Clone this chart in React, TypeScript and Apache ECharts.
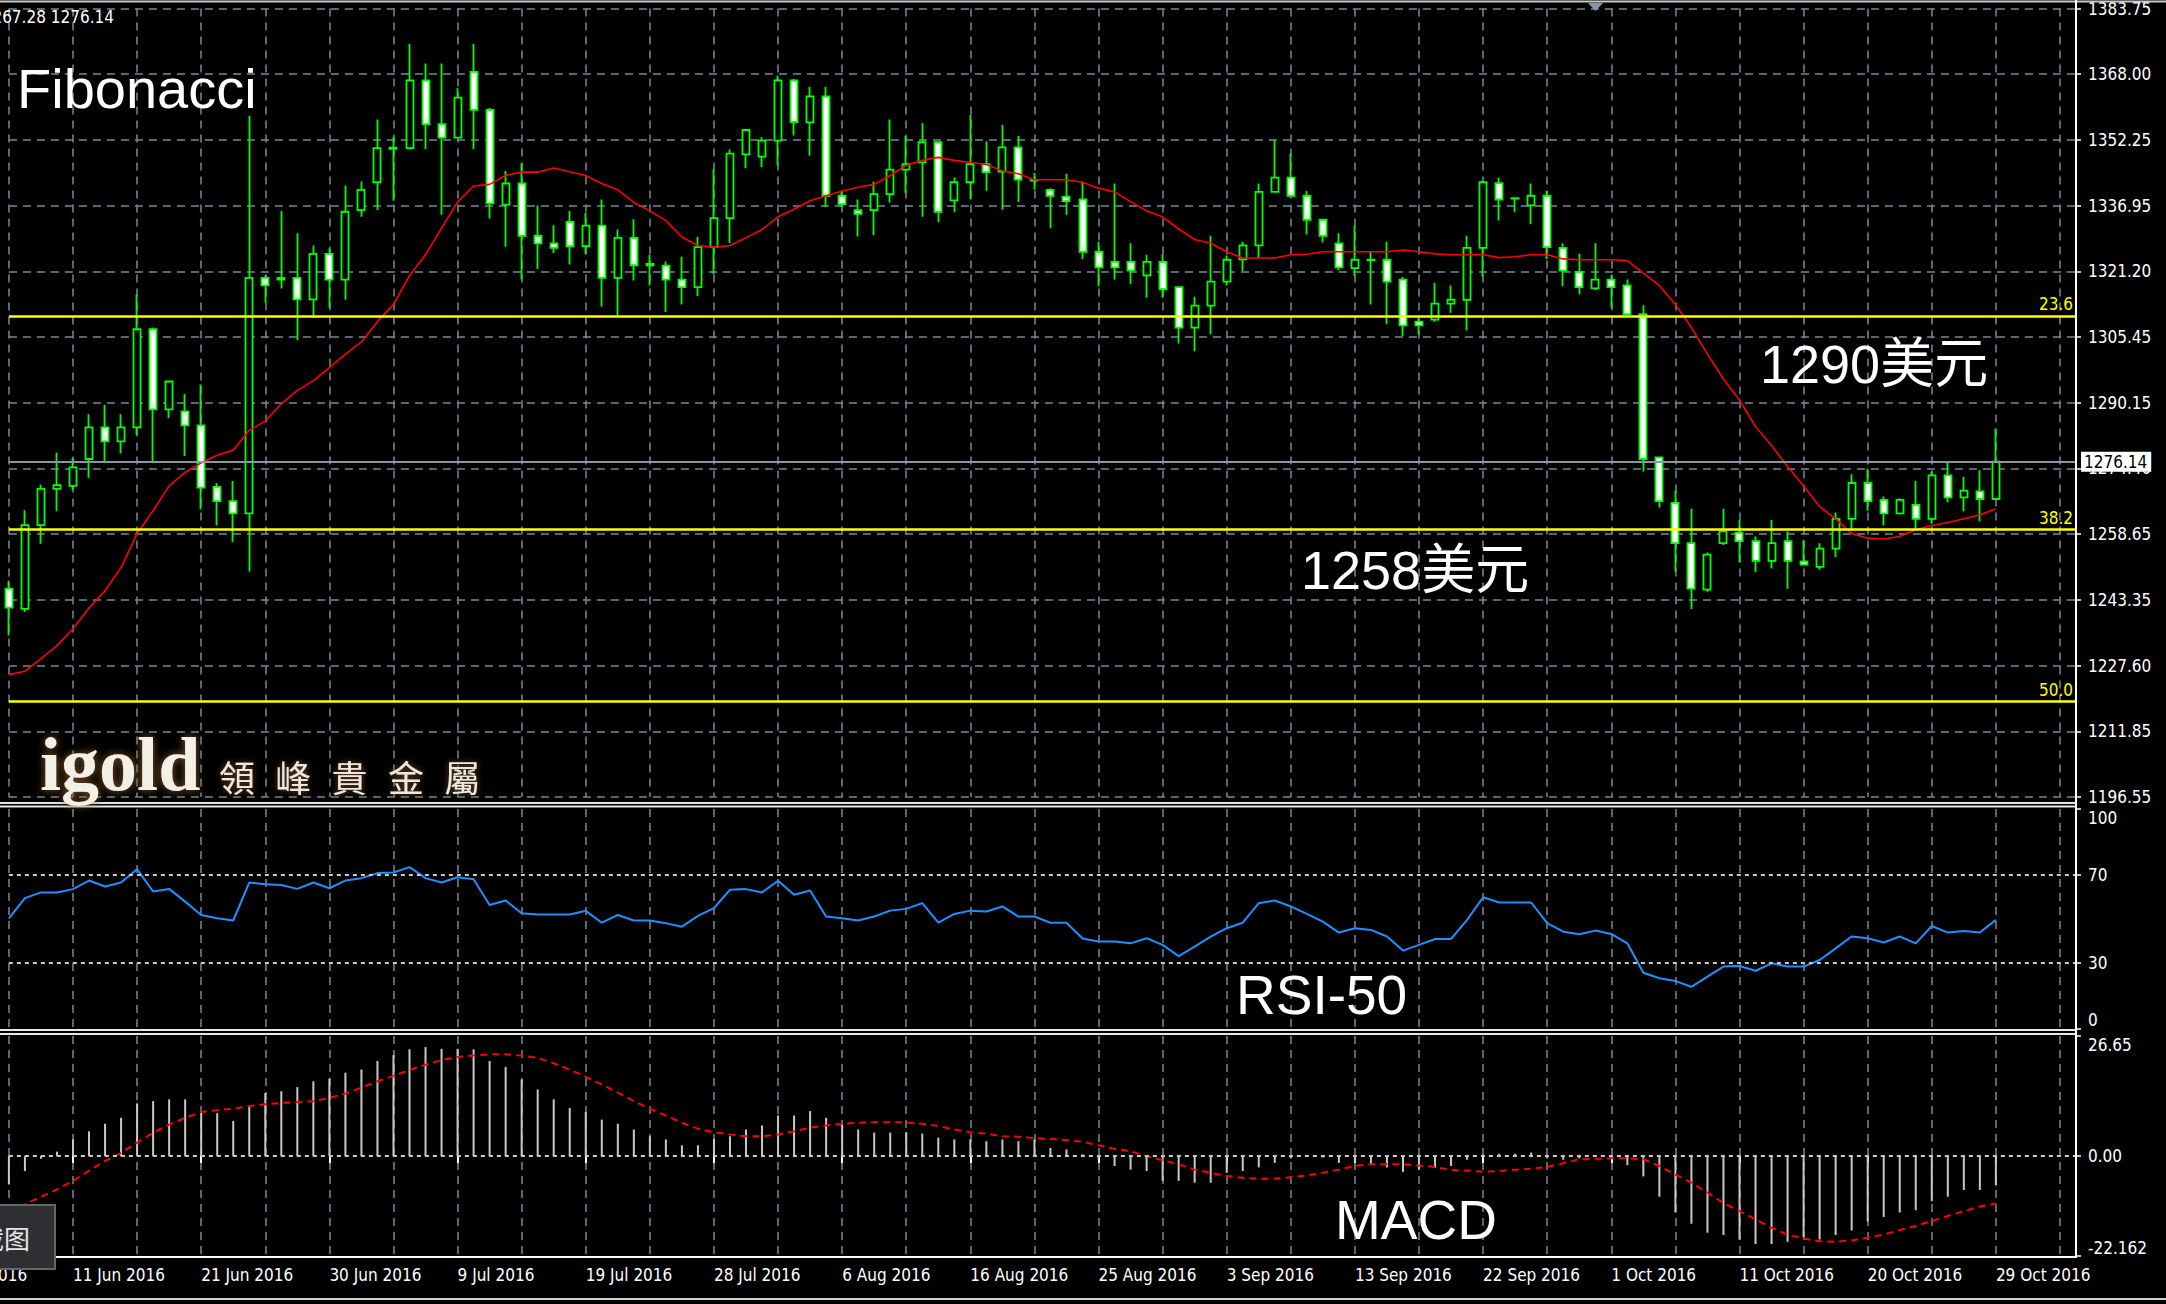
import React, { useEffect, useRef } from "react";
import * as echarts from "echarts";

// ---------- DATA ----------
const dates = [
  "7 Jun 2016","8 Jun 2016","9 Jun 2016","10 Jun 2016","11 Jun 2016",
  "13 Jun 2016","14 Jun 2016","15 Jun 2016","16 Jun 2016","17 Jun 2016","18 Jun 2016",
  "20 Jun 2016","21 Jun 2016","22 Jun 2016","23 Jun 2016","24 Jun 2016","25 Jun 2016",
  "27 Jun 2016","28 Jun 2016","29 Jun 2016","30 Jun 2016","1 Jul 2016","2 Jul 2016",
  "4 Jul 2016","5 Jul 2016","6 Jul 2016","7 Jul 2016","8 Jul 2016","9 Jul 2016",
  "11 Jul 2016","12 Jul 2016","13 Jul 2016","14 Jul 2016","15 Jul 2016","16 Jul 2016",
  "18 Jul 2016","19 Jul 2016","20 Jul 2016","21 Jul 2016","22 Jul 2016","23 Jul 2016",
  "25 Jul 2016","26 Jul 2016","27 Jul 2016","28 Jul 2016","29 Jul 2016","30 Jul 2016",
  "1 Aug 2016","2 Aug 2016","3 Aug 2016","4 Aug 2016","5 Aug 2016","6 Aug 2016",
  "8 Aug 2016","9 Aug 2016","10 Aug 2016","11 Aug 2016","12 Aug 2016","13 Aug 2016",
  "15 Aug 2016","16 Aug 2016","17 Aug 2016","18 Aug 2016","19 Aug 2016","20 Aug 2016",
  "22 Aug 2016","23 Aug 2016","24 Aug 2016","25 Aug 2016","26 Aug 2016","27 Aug 2016",
  "29 Aug 2016","30 Aug 2016","31 Aug 2016","1 Sep 2016","2 Sep 2016","3 Sep 2016",
  "5 Sep 2016","6 Sep 2016","7 Sep 2016","8 Sep 2016","9 Sep 2016","10 Sep 2016",
  "12 Sep 2016","13 Sep 2016","14 Sep 2016","15 Sep 2016","16 Sep 2016","17 Sep 2016",
  "19 Sep 2016","20 Sep 2016","21 Sep 2016","22 Sep 2016","23 Sep 2016","24 Sep 2016",
  "26 Sep 2016","27 Sep 2016","28 Sep 2016","29 Sep 2016","30 Sep 2016","1 Oct 2016",
  "3 Oct 2016","4 Oct 2016","5 Oct 2016","6 Oct 2016","7 Oct 2016","8 Oct 2016",
  "10 Oct 2016","11 Oct 2016","12 Oct 2016","13 Oct 2016","14 Oct 2016","15 Oct 2016",
  "17 Oct 2016","18 Oct 2016","19 Oct 2016","20 Oct 2016","21 Oct 2016","22 Oct 2016",
  "24 Oct 2016","25 Oct 2016","26 Oct 2016","27 Oct 2016","28 Oct 2016","29 Oct 2016",
];
// empty bars to the right of the last candle (chart shift)
const padDates = ["31 Oct 2016","1 Nov 2016","2 Nov 2016","3 Nov 2016","4 Nov 2016"];

const open = [
  1246.0,1241.2,1261.1,1269.7,1270.4,1276.8,1284.3,1281.0,1284.3,1307.6,
  1288.6,1288.1,1284.8,1270.2,1266.8,1263.9,1319.8,1319.4,1319.8,1314.7,
  1325.5,1319.4,1335.9,1342.5,1350.4,1350.6,1366.7,1356.3,1353.1,1368.7,
  1359.7,1337.2,1342.2,1329.8,1328.0,1333.1,1327.3,1332.2,1319.8,1329.3,
  1322.8,1322.7,1319.4,1317.6,1327.1,1334.0,1349.1,1348.6,1352.4,1366.7,
  1356.7,1362.9,1339.3,1335.9,1335.9,1339.7,1345.5,1347.2,1352.0,1338.2,
  1342.5,1346.8,1345.0,1350.8,1342.9,1340.7,1339.1,1338.4,1326.0,1323.6,
  1323.6,1320.4,1323.6,1317.6,1308.0,1313.2,1318.9,1324.2,1327.5,1340.2,
  1343.6,1339.3,1333.6,1328.0,1322.1,1324.1,1324.1,1319.4,1309.4,1309.9,
  1313.7,1314.6,1326.9,1342.3,1338.7,1337.0,1339.3,1326.9,1321.2,1317.3,
  1319.4,1318.0,1311.2,1277.2,1266.4,1256.8,1245.8,1256.8,1259.3,1257.3,
  1252.6,1257.3,1252.5,1251.2,1255.5,1262.6,1271.1,1267.1,1263.9,1265.9,
  1262.6,1272.9,1267.7,1269.1,1267.3,
];
const close = [
  1241.5,1261.1,1269.7,1270.6,1274.8,1284.3,1281.0,1284.3,1307.6,1288.6,
  1295.2,1284.8,1270.0,1266.8,1263.9,1319.8,1318.0,1319.8,1314.7,1325.5,
  1319.4,1335.5,1340.7,1350.6,1350.7,1366.7,1356.3,1353.1,1362.6,1359.7,
  1337.5,1342.2,1329.8,1328.0,1326.9,1327.3,1332.2,1319.8,1329.3,1322.8,
  1323.1,1319.4,1317.6,1327.1,1334.0,1349.3,1354.9,1352.4,1366.7,1356.8,
  1362.9,1339.3,1337.3,1335.0,1339.7,1345.5,1346.8,1352.0,1335.5,1342.5,
  1346.8,1344.9,1350.8,1343.1,1343.0,1339.3,1338.0,1326.0,1322.3,1322.3,
  1321.6,1323.6,1317.1,1308.0,1313.2,1318.9,1324.1,1327.5,1340.2,1343.6,
  1339.3,1333.6,1329.8,1322.3,1324.1,1324.0,1318.9,1308.5,1308.5,1313.7,
  1314.6,1326.9,1342.5,1338.4,1338.6,1339.3,1327.1,1321.5,1317.6,1319.4,
  1317.6,1311.2,1276.8,1266.8,1256.8,1246.0,1254.1,1259.6,1257.3,1252.6,
  1256.8,1252.6,1251.7,1255.5,1262.6,1271.1,1266.8,1263.9,1267.1,1262.6,
  1272.9,1267.7,1269.3,1267.3,1276.14,
];
const low = [
  1234.9,1240.5,1256.7,1264.4,1269.5,1272.3,1276.3,1278.1,1282.5,1276.3,
  1286.5,1277.5,1264.8,1261.0,1257.1,1250.1,1313.9,1317.3,1305.0,1310.3,
  1312.7,1314.6,1334.3,1335.9,1338.1,1350.3,1350.4,1334.8,1353.0,1350.4,
  1333.9,1327.2,1319.4,1321.9,1325.7,1323.0,1325.4,1313.0,1310.6,1319.2,
  1318.0,1311.7,1313.5,1315.5,1320.7,1328.1,1345.8,1346.1,1346.5,1353.6,
  1348.8,1336.6,1336.6,1329.6,1330.0,1337.7,1339.9,1334.3,1333.0,1335.4,
  1338.4,1340.5,1336.0,1337.8,1340.7,1331.6,1334.8,1324.3,1317.8,1319.4,
  1318.3,1315.1,1315.1,1304.2,1302.4,1306.4,1318.0,1321.4,1324.5,1340.0,
  1339.0,1330.1,1328.2,1321.6,1320.3,1313.5,1308.8,1306.0,1306.4,1309.4,
  1311.5,1307.3,1320.1,1333.4,1335.4,1332.5,1324.3,1317.8,1315.9,1316.9,
  1312.7,1310.6,1273.8,1265.3,1250.1,1241.2,1245.3,1256.4,1252.3,1249.9,
  1250.8,1246.0,1251.6,1250.5,1253.5,1260.0,1264.5,1261.0,1263.6,1260.0,
  1261.4,1266.5,1264.4,1262.0,1267.28,
];
const high = [
  1247.9,1264.6,1270.7,1278.3,1277.0,1287.4,1289.7,1287.4,1315.9,1308.0,
  1295.4,1292.2,1294.5,1271.1,1271.6,1358.3,1320.5,1335.7,1330.4,1327.5,
  1326.8,1341.7,1342.7,1357.4,1353.3,1375.4,1370.7,1370.7,1364.8,1375.4,
  1360.1,1345.2,1347.0,1337.0,1332.3,1335.7,1335.2,1338.4,1331.3,1333.7,
  1325.2,1323.7,1324.8,1329.5,1345.6,1350.3,1355.2,1353.2,1367.8,1367.0,
  1365.1,1365.1,1340.2,1338.4,1342.6,1357.4,1353.5,1356.5,1352.2,1343.6,
  1358.5,1352.2,1356.1,1353.5,1344.7,1341.1,1344.5,1342.6,1328.4,1342.2,
  1328.0,1325.3,1325.4,1317.8,1315.3,1329.8,1325.1,1328.4,1342.2,1352.6,
  1349.3,1340.4,1333.8,1330.4,1332.2,1326.2,1328.4,1320.0,1310.5,1318.6,
  1318.0,1329.8,1342.9,1343.6,1338.8,1342.2,1340.4,1328.0,1325.5,1328.0,
  1320.4,1319.4,1313.3,1277.4,1269.3,1265.0,1254.6,1265.0,1262.3,1258.4,
  1262.3,1259.6,1257.5,1256.8,1264.1,1273.2,1274.5,1267.9,1267.5,1271.6,
  1273.8,1276.1,1272.5,1274.1,1284.0,
];
const movingAverage = [
  1225.6,1226.4,1229.4,1232.5,1236.5,1241.4,1245.5,1251.0,1259.1,1264.5,
  1270.4,1273.6,1275.9,1277.7,1278.9,1283.6,1285.8,1289.9,1293.1,1295.4,
  1298.5,1301.7,1304.6,1309.4,1313.5,1320.3,1325.3,1331.6,1337.8,1341.6,
  1342.0,1344.1,1344.9,1344.9,1345.9,1345.0,1344.1,1342.2,1340.7,1337.7,
  1335.7,1333.4,1329.5,1327.5,1327.1,1327.5,1329.3,1331.3,1334.3,1336.1,
  1338.1,1339.3,1340.4,1341.3,1342.0,1344.1,1346.5,1347.7,1348.4,1347.7,
  1347.2,1346.7,1345.2,1344.5,1343.1,1343.1,1343.1,1342.5,1341.1,1340.2,
  1337.9,1335.7,1334.3,1331.4,1328.9,1328.0,1326.0,1324.5,1324.5,1324.5,
  1325.3,1325.4,1326.0,1326.0,1326.0,1326.0,1326.0,1326.4,1326.0,1325.5,
  1325.3,1325.3,1325.3,1324.6,1324.8,1325.3,1325.3,1324.3,1324.1,1324.1,
  1324.1,1323.9,1320.9,1318.0,1313.5,1308.0,1301.7,1295.8,1290.8,1284.5,
  1280.0,1275.0,1270.4,1265.5,1262.6,1259.1,1258.0,1257.8,1258.4,1260.0,
  1261.0,1261.7,1262.6,1263.5,1265.0,
];
const rsi = [
  50.2,59.4,62.0,62.0,63.5,67.4,64.7,66.5,72.6,62.4,
  63.6,57.8,51.7,50.2,49.2,66.5,65.7,65.4,63.6,66.5,
  63.9,67.4,68.5,70.8,71.1,73.5,68.5,66.5,68.9,68.0,
  56.3,58.3,52.5,51.9,51.9,51.9,53.6,48.2,51.7,49.2,
  49.2,48.0,46.4,51.3,54.8,63.2,63.5,62.0,67.3,60.9,
  62.9,51.0,50.2,49.2,51.0,53.7,54.5,57.1,48.2,52.2,
  53.7,53.3,55.6,51.0,51.0,48.2,48.2,41.0,39.6,39.6,
  38.8,41.1,38.1,33.0,37.3,41.9,45.7,48.2,57.1,58.3,
  55.6,52.2,48.7,43.7,45.7,44.9,41.9,35.5,38.1,40.8,
  40.8,49.5,59.8,57.4,57.4,57.4,48.0,44.1,42.9,44.6,
  43.1,38.8,25.4,22.9,21.6,19.0,23.6,28.2,28.5,26.3,
  29.7,28.2,28.2,31.2,36.5,41.9,41.1,39.2,41.9,38.8,
  46.7,43.7,44.4,43.7,49.5,
];
const macdHist = [
  -6.3,-3.3,-0.6,1.0,3.7,5.5,7.2,8.5,11.7,12.2,
  12.6,12.6,10.0,9.5,7.8,11.1,14.0,14.4,15.3,16.6,
  17.2,18.5,19.2,21.1,22.4,23.7,24.2,23.8,23.8,23.7,
  21.1,19.8,17.0,14.8,12.6,10.7,9.8,8.1,7.2,5.9,
  4.4,3.7,2.4,2.4,3.8,4.4,5.9,6.8,9.0,9.0,
  10.0,8.5,7.0,5.9,5.2,5.2,5.3,5.0,4.1,3.7,
  3.7,3.3,3.7,3.3,3.7,1.8,1.5,0.4,-0.7,-2.2,
  -3.0,-3.3,-5.5,-5.5,-5.9,-5.9,-3.7,-3.3,-2.5,-1.5,
  -0.5,0.3,-0.3,-1.5,-1.2,-2.0,-2.5,-3.5,-3.0,-2.6,
  -2.2,-0.8,0.3,0.5,0.5,0.8,-0.5,-0.8,-0.5,0.0,
  -0.5,-2.0,-4.5,-9.0,-12.5,-15.0,-17.0,-17.5,-18.5,-19.5,
  -19.5,-19.0,-18.0,-18.5,-17.5,-16.5,-14.5,-13.5,-12.5,-12.0,
  -10.0,-9.0,-7.5,-7.5,-6.5,
];
const macdSignal = [
  -12.4,-10.7,-9.0,-7.4,-5.5,-3.2,-1.1,0.7,3.0,5.2,
  7.0,8.5,9.8,10.2,10.5,11.1,11.5,11.8,12.0,12.2,
  12.9,13.9,15.2,16.6,17.8,19.1,20.3,21.3,22.0,22.3,
  22.6,22.6,22.3,21.8,20.6,19.2,17.6,15.9,14.1,12.2,
  10.5,9.0,7.4,6.1,5.3,4.8,4.4,4.4,4.8,5.5,
  6.3,6.8,7.2,7.4,7.5,7.5,7.5,7.2,6.7,5.9,
  5.3,5.0,4.4,4.3,4.0,3.8,3.6,3.2,2.4,1.6,
  1.1,0.0,-0.9,-1.8,-3.0,-3.7,-4.4,-4.8,-5.0,-5.0,
  -4.7,-4.3,-3.7,-3.0,-2.2,-1.8,-1.8,-1.8,-2.1,-2.4,
  -3.1,-3.2,-3.5,-3.3,-3.0,-2.8,-2.4,-1.6,-0.7,-0.6,
  -0.5,-0.5,-0.7,-2.2,-4.1,-5.9,-8.1,-10.4,-12.2,-14.0,
  -15.9,-17.4,-18.3,-18.9,-19.0,-18.7,-18.1,-17.4,-16.4,-15.5,
  -14.4,-13.3,-12.2,-11.2,-10.5,
];

const priceTickLabels = [
  "1196.55","1211.85","1227.60","1243.35","1258.65","1274.40","1290.15",
  "1305.45","1321.20","1336.95","1352.25","1368.00","1383.75",
];
const priceMin = 1196.55;
const priceMax = 1383.75;
const fibLevels = [1310.78, 1260.1, 1219.3];
const fibLabels = ["23.6", "38.2", "50.0"];
const lastPrice = 1276.14;
const rsiLevels = [70, 30];
const rsiTickValues = [0, 30, 70, 100];
const macdMin = -22.162;
const macdMax = 26.65;
const logoChars = ["領", "峰", "貴", "金", "屬"];

// ---------- STYLE ----------
const AXIS_FONT = "'DejaVu Sans Condensed', 'Liberation Sans Narrow', 'DejaVu Sans', sans-serif";
const BIG_FONT = "'Liberation Sans', Arial, 'Noto Sans CJK SC', sans-serif";
const GRID_COLOR = "#778899";
const LEFT = 8.9;
const RIGHT = 90; // axis at x = 2076

export default function App() {
  const ref = useRef<HTMLDivElement>(null);

  useEffect(() => {
    if (!ref.current) return;
    const chart = echarts.init(ref.current, null, { renderer: "svg" });
    const categories = [...dates, ...padDates];
    const candleData = open.map((o, i) => [o, close[i], low[i], high[i]]);

    const gridSplit = (idx: number) => idx % 4 === 0;
    const labelInterval = (idx: number) => idx >= 4 && (idx - 4) % 8 === 0;

    const mkX = (gridIndex: number, bottom: boolean) => ({
      type: "category",
      gridIndex,
      data: categories,
      boundaryGap: false,
      axisLine: { show: false },
      axisTick: {
        show: bottom,
        interval: labelInterval,
        length: 7,
        lineStyle: { color: "#ffffff", width: 2 },
      },
      axisLabel: {
        show: bottom,
        interval: labelInterval,
        align: "left",
        color: "#ffffff",
        fontSize: 17,
        fontFamily: AXIS_FONT,
        margin: 10,
      },
      splitLine: {
        show: true,
        interval: gridSplit,
        lineStyle: { color: GRID_COLOR, type: [8, 6], width: 1.5 },
      },
    });

    const yLabelStyle = {
      color: "#ffffff",
      fontSize: 17,
      fontFamily: AXIS_FONT,
      margin: 12,
    };

    const option: any = {
      animation: false,
      backgroundColor: "#000000",
      grid: [
        { left: LEFT, right: RIGHT, top: 6, height: 791 },
        { left: LEFT, right: RIGHT, top: 809, height: 219.5 },
        { left: LEFT, right: RIGHT, top: 1036, height: 220 },
      ],
      xAxis: [mkX(0, false), mkX(1, false), mkX(2, true)],
      yAxis: [
        {
          type: "value",
          gridIndex: 0,
          position: "right",
          min: 0,
          max: 12,
          interval: 1,
          axisLine: { show: false },
          axisTick: { show: true, length: 5, lineStyle: { color: "#ffffff", width: 1.5 } },
          axisLabel: { ...yLabelStyle, formatter: (v: number) => priceTickLabels[Math.round(v)] ?? "" },
          splitLine: { show: true, lineStyle: { color: GRID_COLOR, type: [8, 6], width: 1.5 } },
        },
        {
          type: "value",
          gridIndex: 0,
          position: "right",
          min: priceMin,
          max: priceMax,
          show: false,
          splitLine: { show: false },
        },
        {
          type: "value",
          gridIndex: 1,
          position: "right",
          min: 0,
          max: 100,
          interval: 10,
          axisLine: { show: false },
          axisTick: { show: true, length: 5, customValues: rsiTickValues, lineStyle: { color: "#ffffff", width: 1.5 } },
          axisLabel: {
            ...yLabelStyle,
            customValues: rsiTickValues,
            verticalAlignMinLabel: "bottom",
            verticalAlignMaxLabel: "top",
            formatter: (v: number) => (rsiTickValues.includes(v) ? String(v) : ""),
          },
          splitLine: { show: false },
        },
        {
          type: "value",
          gridIndex: 2,
          position: "right",
          min: macdMin,
          max: macdMax,
          interval: -macdMin,
          axisLine: { show: false },
          axisTick: { show: true, length: 5, customValues: [macdMin, 0, macdMax], lineStyle: { color: "#ffffff", width: 1.5 } },
          axisLabel: {
            ...yLabelStyle,
            customValues: [macdMin, 0, macdMax],
            verticalAlignMinLabel: "bottom",
            verticalAlignMaxLabel: "top",
            formatter: (v: number) => {
              if (Math.abs(v - macdMax) < 0.01) return "26.65";
              if (Math.abs(v) < 0.001) return "0.00";
              if (Math.abs(v - macdMin) < 0.01) return "-22.162";
              return "";
            },
          },
          splitLine: { show: false },
        },
      ],
      series: [
        {
          name: "XAUUSD",
          type: "candlestick",
          xAxisIndex: 0,
          yAxisIndex: 1,
          data: candleData,
          barWidth: 7.5,
          clip: false,
          z: 3,
          itemStyle: {
            color: "#000000",
            color0: "#ffffff",
            borderColor: "#00ff00",
            borderColor0: "#00ff00",
            borderWidth: 1.8,
          },
          markLine: {
            silent: true,
            symbol: ["none", "none"],
            animation: false,
            data: [
              ...fibLevels.map((lv, k) => ({
                yAxis: lv,
                lineStyle: { color: "#ffff00", width: 2.5, type: "solid" },
                label: {
                  show: true,
                  position: "insideEndTop",
                  formatter: fibLabels[k],
                  color: "#ffff00",
                  fontSize: 17,
                  fontFamily: AXIS_FONT,
                  distance: 3,
                },
              })),
              {
                yAxis: lastPrice,
                lineStyle: { color: "#8a96a2", width: 2, type: "solid" },
                label: {
                  show: true,
                  position: "end",
                  formatter: "1276.14",
                  color: "#000000",
                  backgroundColor: "#ffffff",
                  padding: [2, 4, 1, 3],
                  fontSize: 17,
                  fontFamily: AXIS_FONT,
                  distance: 5,
                },
              },
            ],
          },
        },
        {
          name: "MA",
          type: "line",
          xAxisIndex: 0,
          yAxisIndex: 1,
          data: movingAverage,
          showSymbol: false,
          symbol: "none",
          z: 4,
          lineStyle: { color: "#ff0000", width: 1.6 },
        },
        {
          name: "RSI",
          type: "line",
          xAxisIndex: 1,
          yAxisIndex: 2,
          data: rsi,
          showSymbol: false,
          symbol: "none",
          z: 4,
          lineStyle: { color: "#1e90ff", width: 2 },
          markLine: {
            silent: true,
            symbol: ["none", "none"],
            label: { show: false },
            lineStyle: { color: "#c8c8c8", width: 2, type: [4, 4] },
            data: rsiLevels.map((v) => ({ yAxis: v })),
          },
        },
        {
          name: "MACD",
          type: "bar",
          xAxisIndex: 2,
          yAxisIndex: 3,
          data: macdHist,
          barWidth: 2,
          itemStyle: { color: "#c8c8c8" },
          markLine: {
            silent: true,
            symbol: ["none", "none"],
            label: { show: false },
            lineStyle: { color: "#c8c8c8", width: 2, type: [4, 4] },
            data: [{ yAxis: 0 }],
          },
        },
        {
          name: "Signal",
          type: "line",
          xAxisIndex: 2,
          yAxisIndex: 3,
          data: macdSignal,
          showSymbol: false,
          symbol: "none",
          z: 4,
          lineStyle: { color: "#ff0000", width: 2, type: [7, 5] },
        },
      ],
      graphic: [
        { type: "line", silent: true, z: 50, shape: { x1: 0, y1: 1.5, x2: 2166, y2: 1.5 }, style: { stroke: "#c8c8c8", lineWidth: 2 } },
        { type: "line", silent: true, z: 50, shape: { x1: 2076, y1: 0, x2: 2076, y2: 1258 }, style: { stroke: "#ffffff", lineWidth: 2 } },
        { type: "line", silent: true, z: 50, shape: { x1: 0, y1: 803, x2: 2076, y2: 803 }, style: { stroke: "#e6e6e6", lineWidth: 2 } },
        { type: "line", silent: true, z: 50, shape: { x1: 0, y1: 806.5, x2: 2076, y2: 806.5 }, style: { stroke: "#e6e6e6", lineWidth: 2 } },
        { type: "line", silent: true, z: 50, shape: { x1: 0, y1: 1030, x2: 2076, y2: 1030 }, style: { stroke: "#e6e6e6", lineWidth: 2 } },
        { type: "line", silent: true, z: 50, shape: { x1: 0, y1: 1034, x2: 2076, y2: 1034 }, style: { stroke: "#e6e6e6", lineWidth: 2 } },
        { type: "line", silent: true, z: 50, shape: { x1: 0, y1: 1257, x2: 2076, y2: 1257 }, style: { stroke: "#ffffff", lineWidth: 2 } },
        { type: "line", silent: true, z: 50, shape: { x1: 0, y1: 1299, x2: 2166, y2: 1299 }, style: { stroke: "#d0d0d0", lineWidth: 2 } },
        { type: "polygon", silent: true, z: 50, shape: { points: [[1588, 3], [1603, 3], [1595.5, 11]] }, style: { fill: "#8a96a8" } },
        {
          type: "text", silent: true, z: 60, x: 114, y: 17,
          style: { text: "1267.28 1276.14", fill: "#ffffff", font: `17px ${AXIS_FONT}`, textAlign: "right", textVerticalAlign: "middle" },
        },
        {
          type: "text", silent: true, z: 60, x: 17, y: 88,
          style: { text: "Fibonacci", fill: "#ffffff", font: `56px ${BIG_FONT}`, textAlign: "left", textVerticalAlign: "middle" },
        },
        {
          type: "text", silent: true, z: 60, x: 1760, y: 364,
          style: { text: "1290美元", fill: "#ffffff", font: `54px ${BIG_FONT}`, textAlign: "left", textVerticalAlign: "middle" },
        },
        {
          type: "text", silent: true, z: 60, x: 1301, y: 570,
          style: { text: "1258美元", fill: "#ffffff", font: `54px ${BIG_FONT}`, textAlign: "left", textVerticalAlign: "middle" },
        },
        {
          type: "text", silent: true, z: 60, x: 1236, y: 995,
          style: { text: "RSI-50", fill: "#ffffff", font: `55px ${BIG_FONT}`, textAlign: "left", textVerticalAlign: "middle" },
        },
        {
          type: "text", silent: true, z: 60, x: 1335, y: 1220,
          style: { text: "MACD", fill: "#ffffff", font: `55px ${BIG_FONT}`, textAlign: "left", textVerticalAlign: "middle" },
        },
        {
          type: "text", silent: true, z: 60, x: 40, y: 764,
          style: {
            text: "igold", fill: "#f4f0e8", font: "bold 76px 'Liberation Serif', 'DejaVu Serif', serif",
            textAlign: "left", textVerticalAlign: "middle", textShadowColor: "#8b5a2b", textShadowBlur: 8,
          },
        },
        ...logoChars.map((ch, k) => ({
          type: "text", silent: true, z: 60, x: 219 + k * 56.3, y: 776,
          style: {
            text: ch, fill: "#ece8e0", font: "36px 'Noto Sans CJK TC', 'Noto Sans CJK SC', sans-serif",
            textAlign: "left", textVerticalAlign: "middle", textShadowColor: "#7a4a20", textShadowBlur: 6,
          },
        })),
        {
          type: "text", silent: true, z: 60, x: LEFT - 64, y: 1275,
          style: { text: "1 Jun 2016", fill: "#ffffff", font: `17px ${AXIS_FONT}`, textAlign: "left", textVerticalAlign: "middle" },
        },
        {
          type: "rect", silent: true, z: 70,
          shape: { x: -2, y: 1205, width: 57, height: 64 },
          style: { fill: "#2d2f33", stroke: "#62666c", lineWidth: 2 },
        },
        {
          type: "text", silent: true, z: 71, x: -22, y: 1237,
          style: { text: "截图", fill: "#e6e6e6", font: "26px 'Noto Sans CJK SC', sans-serif", textAlign: "left", textVerticalAlign: "middle" },
        },
      ],
    };

    chart.setOption(option);
    return () => chart.dispose();
  }, []);

  return (
    <div
      ref={ref}
      style={{ position: "fixed", left: 0, top: 0, width: "2166px", height: "1304px", background: "#000" }}
    />
  );
}
